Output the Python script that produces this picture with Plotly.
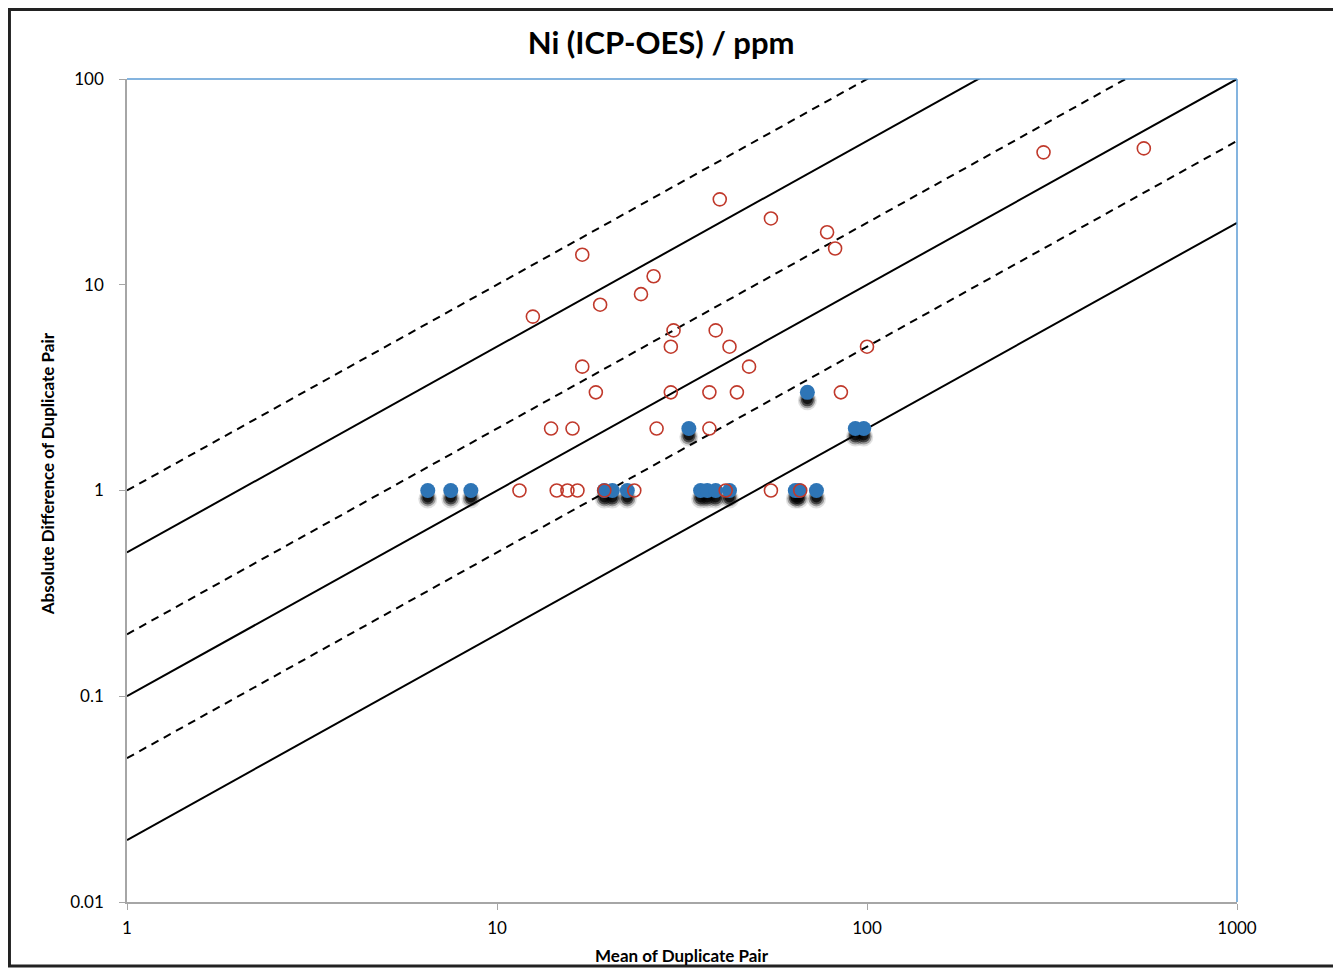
import plotly.graph_objects as go

# mean of duplicate pair vs absolute difference (open red = original points)
red_x = [40, 55, 78, 82, 17, 26.5, 24.5, 19, 12.5, 30, 39, 29.5, 42.5, 17, 48,
         18.5, 29.5, 37.5, 44.5, 85, 14, 16, 27, 37.5,
         11.5, 14.5, 15.5, 16.5, 19.5, 23.5, 41.5, 55, 66, 100, 300, 560]
red_y = [26, 21, 18, 15, 14, 11, 9, 8, 7, 6, 6, 5, 5, 4, 4,
         3, 3, 3, 3, 3, 2, 2, 2, 2,
         1, 1, 1, 1, 1, 1, 1, 1, 1, 5, 44, 46]

# filled blue points
blue_x = [6.5, 7.5, 8.5, 19.5, 20.5, 22.5, 35.5, 37, 39, 42.5, 64, 65.5, 73, 33, 69, 93, 98]
blue_y = [1, 1, 1, 1, 1, 1, 1, 1, 1, 1, 1, 1, 1, 2, 3, 2, 2]

# precision guide lines: y = k * x
line_x = [1, 1000]
solid_k = [0.5, 0.1, 0.02]
dashed_k = [1, 0.2, 0.05]

FONT = "Lato"

fig = go.Figure()

for k in dashed_k:
    fig.add_trace(go.Scatter(x=line_x, y=[k * v for v in line_x], mode="lines",
                             line=dict(color="black", width=2, dash="8px,6px"),
                             showlegend=False, hoverinfo="skip"))
for k in solid_k:
    fig.add_trace(go.Scatter(x=line_x, y=[k * v for v in line_x], mode="lines",
                             line=dict(color="black", width=2),
                             showlegend=False, hoverinfo="skip"))

# soft drop shadow under the blue markers
for f, s, a in [(0.91, 19, 0.12), (0.915, 16, 0.3), (0.92, 13, 0.55), (0.925, 10, 0.7)]:
    fig.add_trace(go.Scatter(x=blue_x, y=[v * f for v in blue_y], mode="markers",
                             marker=dict(size=s, color=f"rgba(0,0,0,{a})", line=dict(width=0)),
                             showlegend=False, hoverinfo="skip"))

fig.add_trace(go.Scatter(x=blue_x, y=blue_y, mode="markers",
                         marker=dict(size=15, color="#2E75B6", line=dict(width=0)),
                         showlegend=False))
fig.add_trace(go.Scatter(x=red_x, y=red_y, mode="markers",
                         marker=dict(size=13, symbol="circle-open", color="#C0392B",
                                     line=dict(width=1.6)),
                         showlegend=False))

# page body adds 8px around the figure, so size it to fill the window
fig.update_layout(
    width=1333, height=964,
    margin=dict(l=119, r=104, t=71, b=70),
    paper_bgcolor="white", plot_bgcolor="white",
    font=dict(family=FONT, color="black", size=17),
    title=dict(text="<b>Ni (ICP-OES) / ppm</b>", x=0.49, xanchor="center",
               y=0.9637, yanchor="middle", font=dict(size=31, family=FONT)),
)
fig.update_xaxes(
    type="log", range=[0, 3], tickvals=[1, 10, 100, 1000], ticktext=["1", "10", "100", "1000"],
    showgrid=False, zeroline=False, showline=True, linecolor="#A6A6A6", linewidth=1.5,
    ticks="outside", ticklen=6, tickcolor="#A6A6A6", ticklabelstandoff=4,
)
fig.update_yaxes(
    type="log", range=[-2, 2], tickvals=[0.01, 0.1, 1, 10, 100],
    ticktext=["0.01", "0.1", "1", "10", "100"],
    showgrid=False, zeroline=False, showline=True, linecolor="#A6A6A6", linewidth=1.5,
    ticks="outside", ticklen=6, tickcolor="#A6A6A6", ticklabelstandoff=12,
)

fig.add_annotation(text="<b>Mean of Duplicate Pair</b>", xref="paper", yref="paper",
                   x=0.5, y=-0.0644, showarrow=False, font=dict(size=17),
                   xanchor="center", yanchor="middle")
fig.add_annotation(text="<b>Absolute Difference of Duplicate Pair</b>", xref="paper", yref="paper",
                   x=-0.0721, y=0.521, showarrow=False, textangle=-90, font=dict(size=17),
                   xanchor="center", yanchor="middle")

# blue top and right plot borders
fig.add_shape(type="line", xref="paper", yref="paper", x0=0, x1=1, y0=1, y1=1,
              line=dict(color="#5B9BD5", width=1.5))
fig.add_shape(type="line", xref="paper", yref="paper", x0=1, x1=1, y0=0, y1=1,
              line=dict(color="#5B9BD5", width=1.5))
# outer frame of the chart
fig.add_shape(type="rect", xref="paper", yref="paper",
              x0=-0.1059, x1=1.0883, y0=-0.0778, y1=1.0845,
              line=dict(color="#222222", width=3))

fig.write_html("out.html")
